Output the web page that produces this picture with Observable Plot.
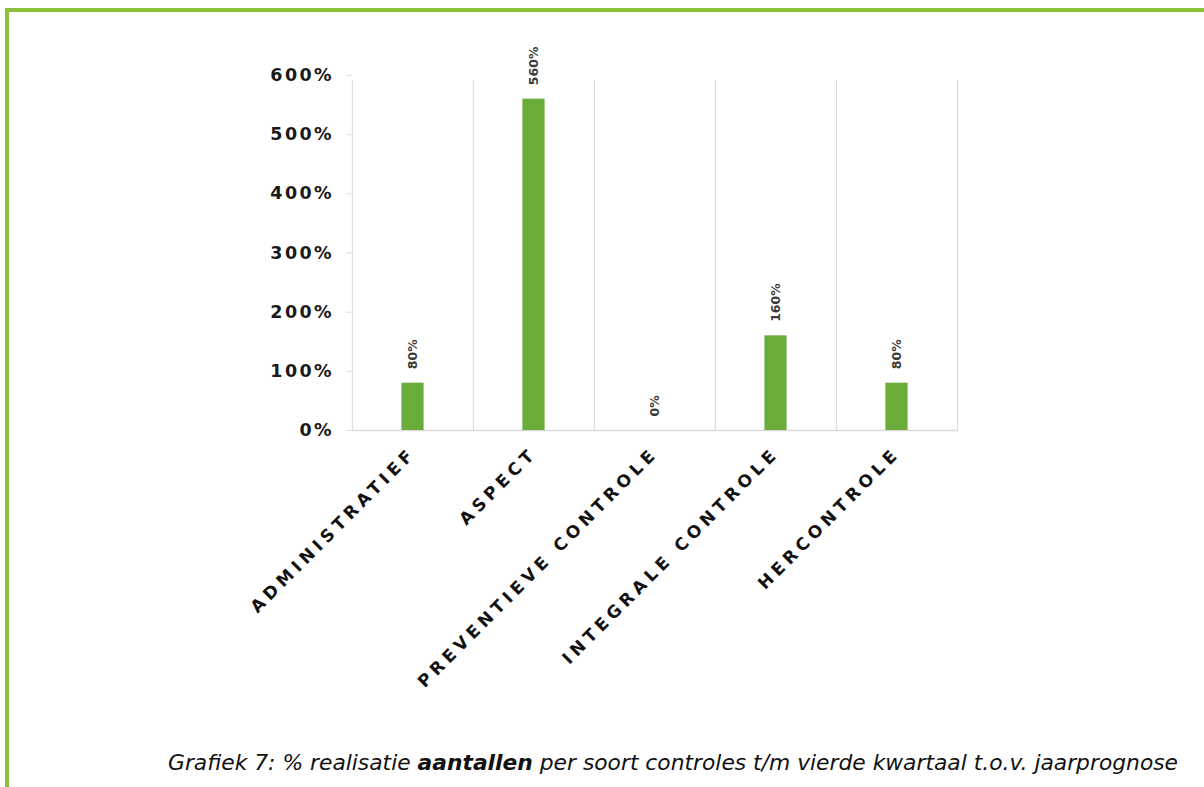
<!DOCTYPE html>
<html>
<head>
<meta charset="utf-8">
<script src="https://cdn.jsdelivr.net/npm/d3@7"></script>
<script src="https://cdn.jsdelivr.net/npm/@observablehq/plot@0.6"></script>
<style>
  html, body { margin: 0; padding: 0; background: #fff; width: 1204px; height: 787px; overflow: hidden; }
  #frame { position: absolute; left: 5px; top: 8px; width: 1400px; height: 900px;
           border-left: 4px solid #8cbf3a; border-top: 4px solid #8cbf3a; }
  #chart { position: absolute; left: 0; top: 0; }
  #caption { position: absolute; left: 168px; top: 750px; font-family: "DejaVu Sans", sans-serif;
             font-style: italic; font-size: 21.8px; line-height: 26px; color: #111; white-space: nowrap; }
  #chart svg { font-family: "DejaVu Sans", Verdana, sans-serif; overflow: visible; }
  g[aria-label="x-axis tick label"] text { letter-spacing: 4.6px; }
  g[aria-label="y-axis tick label"] text { letter-spacing: 2.4px; }
</style>
</head>
<body>
<div id="frame"></div>
<div id="chart"></div>
<div id="caption">Grafiek 7: % realisatie <b>aantallen</b> per soort controles t/m vierde kwartaal t.o.v. jaarprognose</div>
<script>
const categories = ["ADMINISTRATIEF", "ASPECT", "PREVENTIEVE CONTROLE", "INTEGRALE CONTROLE", "HERCONTROLE"];
const values = [80, 560, 0, 160, 80];
const yTicks = [0, 100, 200, 300, 400, 500, 600];

const data = categories.map((c, i) => ({category: c, value: values[i]}));

const W = 1204, H = 720;
const mL = 351.5, mR = 246, mT = 75, mB = 290;
const step = (W - mL - mR) / categories.length;
const barW = 22.5;
const inset = (step - barW) / 2;
const grid = "#d9d9d9";

const chart = Plot.plot({
  width: W,
  height: H,
  marginLeft: mL,
  marginRight: mR,
  marginTop: mT,
  marginBottom: mB,
  style: {background: "transparent"},
  x: {domain: categories, padding: 0},
  y: {domain: [0, 600]},
  marks: [
    // vertical gridlines at band boundaries (left edges + final right edge)
    Plot.ruleX(categories, {x: d => d, dx: -step / 2, y1: 0, y2: 600, stroke: grid, strokeWidth: 1, insetBottom: -5}),
    Plot.ruleX([categories[categories.length - 1]], {x: d => d, dx: step / 2, y1: 0, y2: 600, stroke: grid, strokeWidth: 1, insetBottom: -5}),
    Plot.ruleY([0], {stroke: grid, strokeWidth: 1.5}),
    Plot.barY(data, {x: "category", y: "value", fill: "#6aac3a", insetLeft: inset, insetRight: inset}),
    Plot.text(data, {x: "category", y: "value", text: d => d.value + "%", rotate: -90, textAnchor: "start",
      dy: -14, fontSize: 12.5, fontWeight: "bold", fill: "#3a3a3a"}),
    Plot.axisY({ticks: yTicks, tickFormat: d => d + "%", tickSize: 5, tickPadding: 13, stroke: grid,
      fontSize: 17.5, fontWeight: "bold", fill: "#1a1a1a", label: null}),
    Plot.axisX({tickRotate: -45, tickSize: 0, tickPadding: 20, fontSize: 17, fontWeight: "bold",
      fill: "#111", label: null})
  ]
});
document.getElementById("chart").appendChild(chart);
</script>
</body>
</html>
